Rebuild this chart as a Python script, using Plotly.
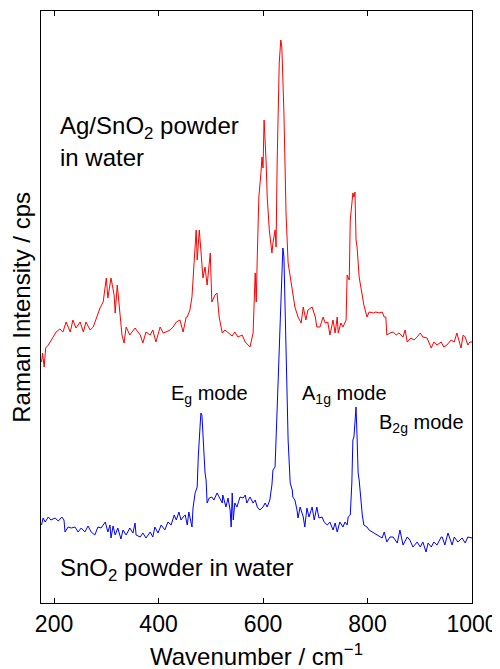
import plotly.graph_objects as go

# Ag/SnO2 powder in water (red)
ag_wavenumber = [176,178,181,184,189,198,204,211,217,223,231,236,242,250,256,261,269,275,280,288,
                 294,300,303,309,315,317,321,326,330,334,338,345,351,355,365,370,376,384,389,395,
                 403,409,414,422,428,434,441,447,453,455,460,464,468,472,474,478,481,485,489,493,
                 499,502,508,512,516,522,527,533,541,546,552,560,566,575,581,585,587,589,592,596,
                 598,600,602,606,608,612,617,619,623,625,627,631,634,636,640,644,648,656,661,667,
                 673,677,682,686,694,700,703,709,715,719,724,728,734,738,742,744,749,753,759,761,
                 765,767,770,772,774,776,778,780,784,790,793,799,803,811,816,822,828,832,835,837,
                 843,849,855,860,868,872,876,883,889,895,901,906,914,922,927,933,941,946,952,960,
                 966,971,975,979,983,987,992,996,1000]
ag_intensity = [241,250,236,255,258,266,271,274,271,281,271,283,275,281,271,281,273,276,283,295,
                301,325,305,325,308,290,318,286,268,260,276,268,273,275,268,260,271,268,273,261,
                276,270,271,273,276,281,283,271,286,286,293,306,340,373,343,373,353,325,336,318,
                350,301,308,310,286,270,273,270,267,271,266,268,261,256,270,330,301,346,406,430,
                446,435,483,440,406,373,350,360,373,356,440,540,563,556,490,390,340,313,296,286,
                280,296,283,293,296,286,276,276,286,280,281,268,283,270,286,270,280,276,283,328,
                323,383,396,410,406,411,363,356,326,306,298,286,291,290,291,290,291,286,286,268,
                270,271,268,270,266,273,261,265,263,266,270,266,265,255,261,258,261,256,258,263,
                261,270,263,255,268,266,258,261,261]

# SnO2 powder in water (blue)
sn_wavenumber = [176,179,183,189,194,202,208,215,219,221,227,233,240,246,252,259,265,271,278,284,
                 290,298,303,307,309,313,317,322,328,332,338,345,351,355,357,365,370,376,384,389,
                 393,399,405,412,418,424,430,434,439,443,447,451,455,458,464,466,470,474,476,478,
                 481,483,485,489,491,493,497,502,506,512,516,522,523,529,533,537,539,541,543,546,
                 550,556,562,566,569,575,581,585,589,594,600,604,608,613,617,619,623,627,629,633,
                 636,638,640,642,646,648,652,656,657,661,665,667,671,677,680,684,688,694,698,703,
                 707,713,717,723,728,734,738,742,747,753,757,761,763,767,770,772,774,776,778,780,
                 782,784,788,790,793,799,803,809,814,820,828,832,837,843,849,857,862,868,876,881,
                 887,895,901,906,912,916,922,927,933,941,943,948,954,962,966,973,981,987,992,1000]
sn_intensity = [78,85,81,86,83,85,82,86,83,71,76,75,76,71,75,71,77,71,68,76,
                75,81,71,78,65,77,68,75,64,73,68,75,70,80,68,66,70,65,71,66,
                76,70,78,73,81,78,88,83,91,83,86,88,78,91,76,95,110,116,146,160,
                190,188,163,130,123,100,105,106,103,110,106,100,108,96,105,93,76,110,83,100,
                96,106,105,108,100,106,100,103,96,93,96,100,96,103,118,133,136,183,223,283,
                336,355,346,296,230,163,120,113,106,103,93,85,96,86,76,95,86,96,83,96,
                85,86,81,78,81,73,80,71,81,76,81,78,86,88,120,163,166,183,196,166,
                130,123,96,88,78,76,73,71,70,68,65,71,61,66,66,60,73,58,66,63,
                56,61,56,61,51,60,56,61,58,66,66,58,70,58,66,61,65,60,66,65]

x_ticks = [200, 400, 600, 800, 1000]

FONT = "Liberation Sans, Arial, Helvetica, sans-serif"

fig = go.Figure()
fig.add_trace(go.Scatter(x=ag_wavenumber, y=ag_intensity, mode="lines",
                         line=dict(color="#ff0000", width=1), showlegend=False))
fig.add_trace(go.Scatter(x=sn_wavenumber, y=sn_intensity, mode="lines",
                         line=dict(color="#0000ff", width=1), showlegend=False))

big_font = dict(family=FONT, size=24, color="black")
mode_font = dict(family=FONT, size=20, color="black")

def label(x, y, text, font, **kw):
    fig.add_annotation(x=x, y=y, xref="x", yref="y", text=text, showarrow=False,
                       xanchor="left", yanchor="middle", align="left", font=font, **kw)

label(208, 476, "Ag/SnO<sub>2</sub> powder", big_font)
label(208, 446, "in water", big_font)
label(208, 34, "SnO<sub>2</sub> powder in water", big_font)
label(420, 209, "E<sub>g</sub> mode", mode_font)
label(670, 209, "A<sub>1g</sub> mode", mode_font)
label(818, 180, "B<sub>2g</sub> mode", mode_font)

fig.add_annotation(x=-0.047, y=0.5, xref="paper", yref="paper", text="Raman Intensity / cps",
                   textangle=-90, showarrow=False, xanchor="center", yanchor="middle",
                   font=big_font)
fig.add_annotation(x=0.5, y=-0.088, xref="paper", yref="paper",
                   text="Wavenumber / cm<sup>\u22121</sup>",
                   showarrow=False, xanchor="center", yanchor="middle", font=big_font)

# page body has an 8px default margin, so the figure is 8px smaller
fig.update_layout(
    width=492, height=661,
    margin=dict(l=33, r=28, t=3, b=66),
    paper_bgcolor="white", plot_bgcolor="white",
    xaxis=dict(range=[175, 1000], tickvals=x_ticks, ticks="inside", ticklen=5,
               tickcolor="black", showline=True, linecolor="black", linewidth=1, mirror="ticks",
               showgrid=False, zeroline=False,
               tickfont=dict(family=FONT, size=23, color="black")),
    yaxis=dict(range=[0, 592], showticklabels=False, ticks="", showline=True,
               linecolor="black", linewidth=1, mirror=True, showgrid=False, zeroline=False),
)

fig.write_html("out.html")
